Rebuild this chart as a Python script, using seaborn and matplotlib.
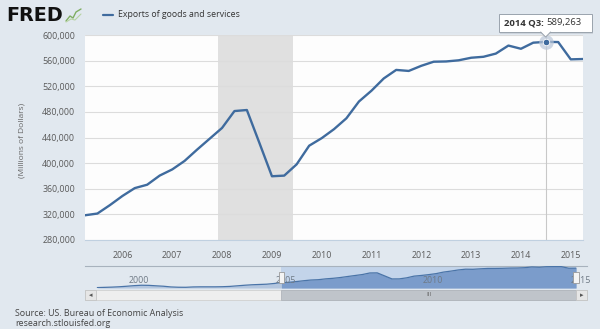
import numpy as np
import pandas as pd
import matplotlib
matplotlib.use("Agg")
import matplotlib.pyplot as plt
import seaborn as sns
from matplotlib.lines import Line2D
from matplotlib.patches import Rectangle, Polygon
from matplotlib.transforms import blended_transform_factory

# ---------------- data ----------------
quarters = pd.period_range("2005Q2", "2015Q2", freq="Q")
exports = [318600, 321300, 334500,
           348800, 361000, 366300, 380600,
           390200, 403400, 420900, 437900,
           454900, 481300, 482900, 431500,
           379500, 380500, 398100, 427200,
           439000, 453000, 470000, 496200,
           513100, 532200, 545500, 543900,
           551900, 558300, 558700, 560500,
           564500, 566000, 571000, 583500,
           578500, 588000, 589263, 589000,
           562000, 562500]
nav_quarters = pd.period_range("1999Q1", "2005Q1", freq="Q")
nav_exports = [232000, 236000, 240000, 246000,
               255000, 265000, 272000, 270000,
               262000, 255000, 243000, 238000,
               237000, 243000, 245000, 245000,
               245000, 247000, 252000, 262000,
               272000, 280000, 285000, 290000,
               302000]
y_ticks = [280000, 320000, 360000, 400000, 440000, 480000, 520000, 560000, 600000]
x_tick_years = [2006, 2007, 2008, 2009, 2010, 2011, 2012, 2013, 2014, 2015]
nav_tick_years = [2000, 2005, 2010, 2015]
recession = ("2007-12-01", "2009-06-01")
highlight_q = "2014Q3"
series_name = "Exports of goods and services"
y_label = "(Millions of Dollars)"
source_lines = ["Source: US. Bureau of Economic Analysis", "research.stlouisfed.org"]

df = pd.DataFrame({"date": quarters.to_timestamp(), "exports": exports})
nav_df = pd.concat([pd.DataFrame({"date": nav_quarters.to_timestamp(), "exports": nav_exports}), df],
                   ignore_index=True)

# ---------------- style ----------------
sns.set_style("white")
plt.rcParams["font.family"] = ["Open Sans", "DejaVu Sans"]

W, H = 600, 329
BG = "#e1e8ef"
LINE = "#3f6b9e"


def fx(px):
    return px / W


def fy(py):
    return 1 - py / H


fig = plt.figure(figsize=(6.0, 3.29), dpi=100, facecolor=BG)

# ---------------- main plot ----------------
L, R, T, B = 85, 583, 35, 240
ax = fig.add_axes([fx(L), fy(B), (R - L) / W, (B - T) / H])
ax.set_facecolor("#fdfdfd")
ax.axvspan(pd.Timestamp(recession[0]), pd.Timestamp(recession[1]), color="#e0e0e0", lw=0, zorder=0.5)
for yv in y_ticks:
    ax.axhline(yv, color="#dcdcdc", lw=0.8, zorder=0.6)

sns.lineplot(data=df, x="date", y="exports", ax=ax, color=LINE, lw=1.7, zorder=3)

ax.set_xlim(df["date"].iloc[0], df["date"].iloc[-1])
ax.set_ylim(280000, 600000)
ax.set_yticks(y_ticks)
ax.set_yticklabels([f"{v:,}" for v in y_ticks])
ax.set_xticks([pd.Timestamp(f"{y}-01-01") for y in x_tick_years])
ax.set_xticklabels([str(y) for y in x_tick_years])
ax.tick_params(axis="y", length=0, pad=7, labelsize=6.4, labelcolor="#5a5a5a")
ax.tick_params(axis="x", length=4, width=0.7, color="#c0d0e0", pad=4, labelsize=6.4, labelcolor="#5a5a5a")
ax.set_xlabel("")
ax.set_ylabel("")
for s in ["top", "right", "left"]:
    ax.spines[s].set_visible(False)
ax.spines["bottom"].set_color("#c0d0e0")
ax.spines["bottom"].set_linewidth(0.8)

# highlighted point + crosshair
hi = df[quarters == pd.Period(highlight_q)]
hd = hi["date"].iloc[0]
hv = hi["exports"].iloc[0]
ax.axvline(hd, color="#c8c8c8", lw=0.8, zorder=2)
ax.scatter([hd], [hv], s=110, color="#b9c6d8", alpha=0.7, zorder=4, lw=0)
sns.scatterplot(x=[hd], y=[hv], ax=ax, s=22, color=LINE, edgecolor="white", linewidth=0.6, zorder=5)

# tooltip (positioned above the highlighted point)
disp = ax.transData.transform((matplotlib.dates.date2num(hd), hv))
cx = disp[0] / fig.dpi / 6.0 * W
bx0, bx1, by0, by1 = cx - 47, cx + 46, 14, 32
fig.patches.append(Rectangle((fx(bx0 + 1.5), fy(by1 + 1.5)), (bx1 - bx0) / W, (by1 - by0) / H,
                             transform=fig.transFigure, facecolor="#b8c0c8", edgecolor="none", alpha=0.5))
fig.patches.append(Rectangle((fx(bx0), fy(by1)), (bx1 - bx0) / W, (by1 - by0) / H,
                             transform=fig.transFigure, facecolor="white", edgecolor="#9aa3ad", lw=0.7))
fig.patches.append(Polygon([(fx(cx - 5), fy(by1 - 0.3)), (fx(cx + 5), fy(by1 - 0.3)), (fx(cx), fy(by1 + 5))],
                           closed=True, transform=fig.transFigure, facecolor="white", edgecolor="none"))
fig.add_artist(Line2D([fx(cx - 5), fx(cx), fx(cx + 5)], [fy(by1), fy(by1 + 5), fy(by1)],
                      transform=fig.transFigure, color="#9aa3ad", lw=0.7))
fig.text(fx(cx - 42), fy(23), f"{pd.Period(highlight_q).year} Q{pd.Period(highlight_q).quarter}:",
         fontsize=6.8, fontweight="bold", color="#333333", va="center", ha="left")
fig.text(fx(cx + 1), fy(23), f"{hv:,}", fontsize=6.8, color="#333333", va="center", ha="left")

# ---------------- header ----------------
fig.text(fx(6), fy(15.5), "FRED", fontsize=13.8, fontweight="heavy", color="#111111",
         va="center", ha="left", family="DejaVu Sans")
fig.add_artist(Line2D([fx(66), fx(70), fx(73), fx(76), fx(81)], [fy(21), fy(16), fy(18), fy(12), fy(9)],
                      transform=fig.transFigure, color="#7fae62", lw=1.0))
fig.add_artist(Line2D([fx(66), fx(71), fx(75), fx(81)], [fy(22), fy(19), fy(20), fy(14)],
                      transform=fig.transFigure, color="#b7d3a2", lw=0.8))
fig.add_artist(Line2D([fx(103), fx(113)], [fy(14.5), fy(14.5)], transform=fig.transFigure, color=LINE, lw=1.6))
fig.text(fx(118), fy(14.5), series_name, fontsize=6.3, color="#333333", va="center", ha="left")

# y label
fig.text(fx(22), fy(140), y_label, rotation=90, fontsize=6.0, color="#666666", va="center", ha="center")

# ---------------- navigator ----------------
NL, NR, NT, NB = 85, 587, 266, 288
nav = fig.add_axes([fx(NL), fy(NB), (NR - NL) / W, (NB - NT) / H])
nav.set_facecolor("none")
n0 = pd.Timestamp("1998-08-01")
n1 = pd.Timestamp("2015-08-15")
nav.set_xlim(n0, n1)
nav.set_ylim(225000, 600000)
sel0, sel1 = df["date"].iloc[0], df["date"].iloc[-1]
nav.axvspan(sel0, sel1, color="#c3d4ea", lw=0, zorder=0)
nav.fill_between(nav_df["date"], nav_df["exports"], 225000, color="#b3c6df", lw=0, zorder=1)
sel_mask = nav_df["date"] >= sel0
nav.fill_between(nav_df["date"][sel_mask], nav_df["exports"][sel_mask], 225000, color="#7b9ccb", lw=0, zorder=2)
sns.lineplot(data=nav_df, x="date", y="exports", ax=nav, color="#4a74a8", lw=0.9, zorder=3)
nav.set_xlabel("")
nav.set_ylabel("")
nav.set_xticks([])
nav.set_yticks([])
for s in nav.spines.values():
    s.set_visible(False)
nav.spines["top"].set_visible(True)
nav.spines["top"].set_color("#a8b2bd")
nav.spines["top"].set_linewidth(0.8)
ntr = blended_transform_factory(nav.transData, nav.transAxes)
for y in nav_tick_years:
    nav.text(pd.Timestamp(f"{y}-01-01") + pd.Timedelta(days=20), 0.36, str(y), transform=ntr,
             fontsize=6.4, color="#6f7a86", va="center", ha="left", zorder=5, clip_on=False)
# handles
for d in (sel0, sel1):
    xd = matplotlib.dates.date2num(d)
    nav.add_patch(Rectangle((xd - 35, 0.25), 70, 0.5, transform=ntr, facecolor="#f4f4f4",
                            edgecolor="#999999", lw=0.6, zorder=6, clip_on=False))

# scrollbar
ftr = blended_transform_factory(nav.transData, fig.transFigure)
sy0, sy1 = fy(300), fy(289.5)
x_n0 = matplotlib.dates.date2num(n0)
x_n1 = matplotlib.dates.date2num(n1)
fig.patches.append(Rectangle((x_n0, sy0), x_n1 - x_n0, sy1 - sy0, transform=ftr,
                             facecolor="#eeeeee", edgecolor="#d0d0d0", lw=0.6))
xs0 = matplotlib.dates.date2num(sel0)
xs1 = matplotlib.dates.date2num(sel1)
fig.patches.append(Rectangle((xs0, sy0), xs1 - xs0, sy1 - sy0, transform=ftr,
                             facecolor="#bfc4ca", edgecolor="#b0b5bb", lw=0.6))
fig.text((fx(NL) + fx(NR)) / 2 + (xs0 + xs1 - x_n0 - x_n1) / 2 / (x_n1 - x_n0) * (NR - NL) / W,
         (sy0 + sy1) / 2, "III", fontsize=4.5, color="#666666", ha="center", va="center")
# buttons
for bx, ch in ((NL, "\u25c2"), (NR - 11, "\u25b8")):
    fig.patches.append(Rectangle((fx(bx), sy0), 11 / W, sy1 - sy0, transform=fig.transFigure,
                                 facecolor="#e6e6e6", edgecolor="#c4c4c4", lw=0.6))
    fig.text(fx(bx + 5.5), (sy0 + sy1) / 2, ch, fontsize=5, color="#555555", ha="center", va="center",
             family="DejaVu Sans")

# ---------------- source ----------------
fig.text(fx(15), fy(313), source_lines[0], fontsize=6.4, color="#444444", va="center", ha="left")
fig.text(fx(15), fy(323), source_lines[1], fontsize=6.4, color="#444444", va="center", ha="left")

fig.savefig("out.png", dpi=100, facecolor=BG)
